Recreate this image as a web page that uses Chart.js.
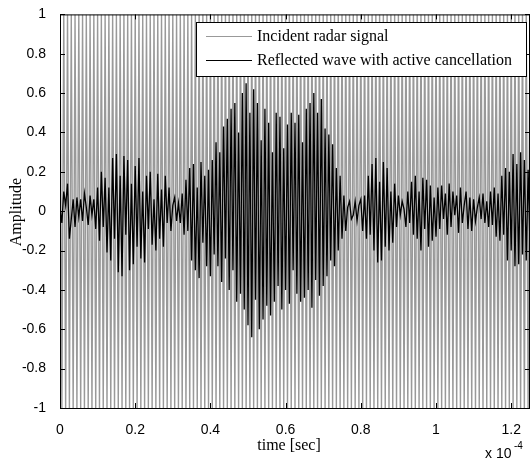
<!DOCTYPE html>
<html lang="en">
<head>
  <meta charset="UTF-8">
  <title>Radar signal cancellation</title>
  <style>
    body {
      margin: 0;
      background: #fff;
    }
    .plot-box {
      position: relative;
      width: 531px;
      height: 464px;
    }
  </style>
</head>
<body>

  <div class="plot-box">
    <canvas id="signalChart" width="531" height="464"></canvas>
  </div>

  <script src="https://cdn.jsdelivr.net/npm/chart.js"></script>
  <script>
    // spacing between samples, seconds (both traces)
    const sampleStep = 0.5e-6;

    // gray trace: peaks and troughs of the incident signal
    const incident = [
      1, -1, 1, -1, 1, -1, 1, -1, 1, -1,
      1, -1, 1, -1, 1, -1, 1, -1, 1, -1,
      1, -1, 1, -1, 1, -1, 1, -1, 1, -1,
      1, -1, 1, -1, 1, -1, 1, -1, 1, -1,
      1, -1, 1, -1, 1, -1, 1, -1, 1, -1,
      1, -1, 1, -1, 1, -1, 1, -1, 1, -1,
      1, -1, 1, -1, 1, -1, 1, -1, 1, -1,
      1, -1, 1, -1, 1, -1, 1, -1, 1, -1,
      1, -1, 1, -1, 1, -1, 1, -1, 1, -1,
      1, -1, 1, -1, 1, -1, 1, -1, 1, -1,
      1, -1, 1, -1, 1, -1, 1, -1, 1, -1,
      1, -1, 1, -1, 1, -1, 1, -1, 1, -1,
      1, -1, 1, -1, 1, -1, 1, -1, 1, -1,
      1, -1, 1, -1, 1, -1, 1, -1, 1, -1,
      1, -1, 1, -1, 1, -1, 1, -1, 1, -1,
      1, -1, 1, -1, 1, -1, 1, -1, 1, -1,
      1, -1, 1, -1, 1, -1, 1, -1, 1, -1,
      1, -1, 1, -1, 1, -1, 1, -1, 1, -1,
      1, -1, 1, -1, 1, -1, 1, -1, 1, -1,
      1, -1, 1, -1, 1, -1, 1, -1, 1, -1,
      1, -1, 1, -1, 1, -1, 1, -1, 1, -1,
      1, -1, 1, -1, 1, -1, 1, -1, 1, -1,
      1, -1, 1, -1, 1, -1, 1, -1, 1, -1,
      1, -1, 1, -1, 1, -1, 1, -1, 1, -1,
      1, -1, 1, -1, 1, -1, 1, -1, 1, -1,
      1
    ];

    // black trace: reflected wave
    const reflected = [
      0.02, -0.06, 0.10, 0.03, 0.14, -0.14, -0.04, 0.06, -0.08, 0.07,
      -0.03, 0.06, -0.05, 0.09, 0.02, -0.07, 0.08, -0.02, 0.06, -0.09,
      0.12, -0.15, 0.20, -0.08, 0.17, -0.21, 0.12, -0.25, 0.27, -0.14,
      0.29, -0.31, 0.18, -0.33, 0.28, -0.12, 0.26, -0.30, 0.14, -0.27,
      0.23, -0.18, 0.27, -0.24, 0.10, -0.26, 0.18, -0.09, 0.20, -0.17,
      0.06, -0.20, 0.19, -0.14, 0.11, -0.18, 0.18, -0.06, 0.12, -0.10,
      0.03, 0.07, -0.05, 0.04, -0.06, 0.09, -0.12, 0.16, -0.10, 0.22,
      -0.25, 0.24, -0.30, 0.12, -0.34, 0.25, -0.16, 0.18, -0.28, 0.21,
      -0.33, 0.26, -0.22, 0.35, -0.28, 0.30, -0.36, 0.43, -0.24, 0.47,
      -0.40, 0.52, -0.30, 0.55, -0.46, 0.40, -0.42, 0.60, -0.50, 0.65,
      -0.58, 0.50, -0.64, 0.62, -0.45, 0.55, -0.60, 0.36, -0.55, 0.52,
      -0.48, 0.45, -0.53, 0.30, -0.46, 0.50, -0.38, 0.48, -0.50, 0.32,
      -0.40, 0.44, -0.47, 0.50, -0.30, 0.45, -0.42, 0.49, -0.46, 0.35,
      -0.44, 0.52, -0.40, 0.55, -0.49, 0.60, -0.35, 0.50, -0.43, 0.57,
      -0.38, 0.42, -0.33, 0.39, -0.25, 0.34, -0.28, 0.22, -0.20, 0.18,
      -0.14, 0.08, -0.10, 0.02, 0.05, -0.04, -0.02, 0.05, -0.05, 0.03,
      0.06, -0.10, 0.08, -0.14, 0.18, -0.12, 0.24, -0.20, 0.27, -0.26,
      0.15, -0.25, 0.25, -0.18, 0.22, -0.20, 0.10, -0.16, 0.14, -0.08,
      0.08, -0.02, 0.05, 0.01, -0.08, 0.10, -0.06, 0.15, -0.12, 0.18,
      -0.14, 0.10, -0.20, 0.17, -0.09, 0.16, -0.18, 0.13, -0.15, 0.07,
      -0.13, 0.12, -0.09, 0.13, -0.04, 0.09, -0.12, 0.14, -0.08, 0.10,
      -0.02, 0.08, -0.11, 0.12, -0.06, 0.03, 0.10, -0.09, 0.07, -0.10,
      0.06, -0.05, 0.02, 0.07, -0.04, 0.09, -0.06, 0.05, -0.08, 0.10,
      -0.07, 0.12, -0.13, 0.09, -0.15, 0.18, -0.12, 0.22, -0.25, 0.20,
      -0.20, 0.29, -0.28, 0.24, -0.27, 0.30, -0.22, 0.26, -0.25, 0.21, -0.18
    ];

    const xTicks = [0, 0.2e-4, 0.4e-4, 0.6e-4, 0.8e-4, 1.0e-4, 1.2e-4];
    const xTickLabels = ['0', '0.2', '0.4', '0.6', '0.8', '1', '1.2'];
    const yTicks = [1, 0.8, 0.6, 0.4, 0.2, 0, -0.2, -0.4, -0.6, -0.8, -1];
    const yTickLabels = ['1', '0.8', '0.6', '0.4', '0.2', '0', '-0.2', '-0.4', '-0.6', '-0.8', '-1'];

    const seriesNames = ['Incident radar signal', 'Reflected wave with active cancellation'];
    const seriesColors = ['#999999', '#000000'];

    const toPoints = arr => arr.map((v, i) => ({ x: i * sampleStep, y: v }));

    const SERIF = '"Liberation Serif", "Times New Roman", serif';
    const SANS = '"Liberation Sans", Arial, sans-serif';

    // matlab style: box, inward ticks, legend, labels
    const matlabFrame = {
      id: 'matlabFrame',
      afterDraw(chart) {
        const { ctx, chartArea: a } = chart;
        const xs = chart.scales.x;
        const ys = chart.scales.y;
        const tick = 5;

        ctx.save();
        ctx.strokeStyle = '#000';
        ctx.lineWidth = 1;
        ctx.beginPath();
        xTicks.forEach(v => {
          const px = Math.round(xs.getPixelForValue(v)) + 0.5;
          ctx.moveTo(px, a.bottom); ctx.lineTo(px, a.bottom - tick);
          ctx.moveTo(px, a.top); ctx.lineTo(px, a.top + tick);
        });
        yTicks.forEach(v => {
          const py = Math.round(ys.getPixelForValue(v)) + 0.5;
          ctx.moveTo(a.left, py); ctx.lineTo(a.left + tick, py);
          ctx.moveTo(a.right, py); ctx.lineTo(a.right - tick, py);
        });
        ctx.stroke();
        ctx.strokeRect(a.left + 0.5, a.top + 0.5, a.right - a.left - 1, a.bottom - a.top);

        // legend box
        const lx = 196, ly = 22, lw = 330, lh = 54;
        ctx.fillStyle = '#fff';
        ctx.fillRect(lx, ly, lw, lh);
        ctx.strokeRect(lx + 0.5, ly + 0.5, lw, lh);
        ctx.font = '16px ' + SERIF;
        ctx.textBaseline = 'middle';
        ctx.textAlign = 'left';
        seriesNames.forEach((name, i) => {
          const yy = ly + 14.5 + i * 24;
          ctx.strokeStyle = seriesColors[i];
          ctx.beginPath();
          ctx.moveTo(lx + 10, yy);
          ctx.lineTo(lx + 56, yy);
          ctx.stroke();
          ctx.fillStyle = '#000';
          ctx.fillText(name, lx + 61, yy);
        });

        // axis titles
        ctx.fillStyle = '#000';
        ctx.textAlign = 'center';
        ctx.fillText('time [sec]', 289, 446);
        ctx.save();
        ctx.translate(17, 212);
        ctx.rotate(-Math.PI / 2);
        ctx.fillText('Amplitude', 0, 0);
        ctx.restore();

        // exponent note
        ctx.font = '14px ' + SANS;
        ctx.textAlign = 'left';
        ctx.fillText('x 10', 485, 454);
        ctx.font = '10px ' + SANS;
        ctx.fillText('-4', 514, 446);
        ctx.restore();
      }
    };

    const ctx = document.getElementById('signalChart').getContext('2d');
    const signalChart = new Chart(ctx, {
      type: 'line',
      data: {
        datasets: [
          {
            label: seriesNames[0],
            data: toPoints(incident),
            borderColor: seriesColors[0],
            borderWidth: 1.4,
            pointRadius: 0,
            tension: 0,
            order: 2
          },
          {
            label: seriesNames[1],
            data: toPoints(reflected),
            borderColor: seriesColors[1],
            borderWidth: 1.3,
            pointRadius: 0,
            tension: 0,
            order: 1
          }
        ]
      },
      options: {
        responsive: false,
        animation: false,
        layout: { padding: { top: 13, right: 1, left: 0, bottom: 0 } },
        plugins: {
          legend: { display: false },
          tooltip: { enabled: false }
        },
        scales: {
          x: {
            type: 'linear',
            min: 0,
            max: (incident.length - 1) * sampleStep,
            grid: { display: false },
            border: { display: false },
            afterBuildTicks: s => { s.ticks = xTicks.map(v => ({ value: v })); },
            afterFit: s => { s.height = 56; },
            ticks: {
              autoSkip: false,
              maxRotation: 0,
              padding: 6,
              color: '#000',
              font: { family: SANS, size: 14 },
              callback: (v, i) => xTickLabels[i]
            }
          },
          y: {
            min: -1,
            max: 1,
            grid: { display: false },
            border: { display: false },
            afterBuildTicks: s => { s.ticks = yTicks.map(v => ({ value: v })); },
            afterFit: s => { s.width = 60; },
            ticks: {
              autoSkip: false,
              padding: 6,
              color: '#000',
              font: { family: SANS, size: 14 },
              callback: (v, i) => yTickLabels[i]
            }
          }
        }
      },
      plugins: [matlabFrame]
    });
  </script>
</body>
</html>
